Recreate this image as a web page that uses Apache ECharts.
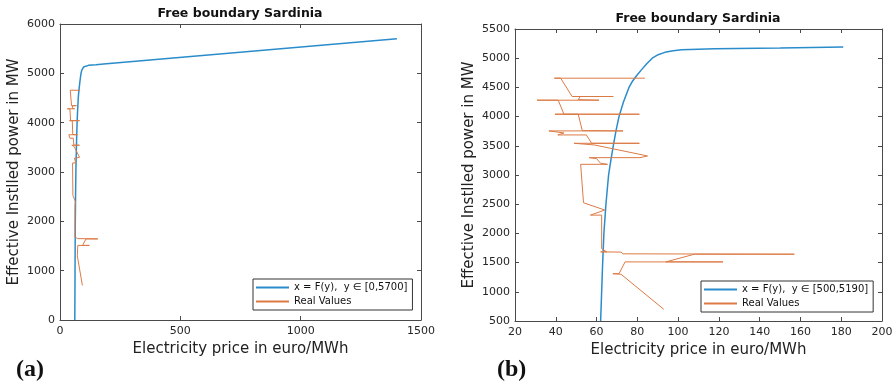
<!DOCTYPE html>
<html>
<head>
<meta charset="utf-8">
<script src="https://cdn.jsdelivr.net/npm/echarts@6/dist/echarts.min.js"></script>
<style>
  html, body { margin: 0; padding: 0; background: #fff; }
  #chart { width: 896px; height: 385px; }
</style>
</head>
<body>
<div id="chart"></div>
<script>
// fitted boundary x = F(y): power (MW) and price (euro/MWh)
var curvePower = [0, 500, 1000, 1500, 2000, 2500, 3000, 3250, 3500, 3750, 4000, 4250, 4500, 4600, 4700, 4800, 4900, 5000, 5060, 5100, 5127, 5145, 5162, 5173, 5190, 5700];
var curvePrice = [61.5, 62, 62.5, 63, 63.6, 64.6, 65.9, 67, 68.2, 69.5, 71, 73.2, 75.9, 77.5, 79.6, 82, 84.5, 87.3, 90.2, 93.5, 97.6, 101.7, 118, 150, 181, 1400];

// real values, in plotting order
var realPrice = [93, 72, 68, 71, 74, 122, 94, 108, 157, 73, 72, 62, 65, 62.5, 62.5, 57, 64, 53.6, 52.2, 65.4, 62, 60, 56.4, 81.3, 85, 59, 49, 81, 57.6, 55, 41, 44, 36.6, 73, 53, 51, 39.6, 81, 44, 41.2, 30.8, 61.2, 51, 52, 68.2, 48, 42.4, 39.3, 83.7];
var realPower = [700, 1300, 1310, 1310, 1512, 1512, 1512, 1644, 1644, 1650, 1680, 1684, 1684, 1740, 2313, 2313, 2400, 2525, 3183, 3183, 3200, 3280, 3297, 3297, 3326, 3514, 3543, 3543, 3543, 3686, 3686, 3720, 3755, 3755, 3760, 4041, 4041, 4041, 4041, 4281, 4281, 4281, 4290, 4344, 4344, 4344, 4658, 4658, 4658];

// axis ticks
var xTicksA = [0, 500, 1000, 1500];
var yTicksA = [0, 1000, 2000, 3000, 4000, 5000, 6000];
var xTicksB = [20, 40, 60, 80, 100, 120, 140, 160, 180, 200];
var yTicksB = [500, 1000, 1500, 2000, 2500, 3000, 3500, 4000, 4500, 5000, 5500];

var rangeA = [0, 5700];
var rangeB = [500, 5190];

var nameA = 'x = F(y),  y \u2208 [0,5700]';
var nameB = 'x = F(y),  y \u2208 [500,5190]';

function pairs(xs, ys, lo, hi) {
  var out = [];
  for (var i = 0; i < xs.length; i++) {
    if (ys[i] >= lo && ys[i] <= hi) out.push([xs[i], ys[i]]);
  }
  return out;
}

var font = 'DejaVu Sans';
var axisColor = '#4a4a4a';

function axis(kind, grid, ticks, pos, title) {
  var main = pos === 'bottom' || pos === 'left';
  return {
    type: 'value',
    gridIndex: grid,
    position: pos,
    min: ticks[0],
    max: ticks[ticks.length - 1],
    interval: ticks[1] - ticks[0],
    name: main ? title : '',
    nameLocation: 'middle',
    nameGap: kind === 'x' ? 21 : 38,
    nameTextStyle: { fontFamily: font, fontSize: 15, color: '#222' },
    axisLine: { show: true, onZero: false, lineStyle: { color: axisColor, width: 1 } },
    axisTick: { show: true, inside: true, length: 4, lineStyle: { color: axisColor } },
    axisLabel: {
      show: main, fontFamily: font, fontSize: 11, color: '#262626',
      margin: kind === 'x' ? 6 : 5,
      formatter: function (v) { return String(v); }
    },
    splitLine: { show: false }
  };
}

var chart = echarts.init(document.getElementById('chart'));

var legendBase = {
  orient: 'vertical',
  backgroundColor: '#fff',
  borderColor: '#333',
  borderWidth: 1,
  borderRadius: 0,
  padding: [2, 5, 2, 3],
  itemGap: 1,
  itemWidth: 33,
  itemHeight: 2,
  icon: 'rect',
  textStyle: { fontFamily: font, fontSize: 10, color: '#111', lineHeight: 13 }
};

var blue = '#2a8ccb';
var orange = '#dc7a45';
var titleFont = 'bold 12.5px "DejaVu Sans"';

chart.setOption({
  animation: false,
  grid: [
    { left: 60, top: 24, width: 361, height: 296 },
    { left: 515, top: 29, width: 367, height: 292 }
  ],
  xAxis: [
    axis('x', 0, xTicksA, 'bottom', 'Electricity price in euro/MWh'),
    axis('x', 0, xTicksA, 'top'),
    axis('x', 1, xTicksB, 'bottom', 'Electricity price in euro/MWh'),
    axis('x', 1, xTicksB, 'top')
  ],
  yAxis: [
    axis('y', 0, yTicksA, 'left', 'Effective Instlled power in MW'),
    axis('y', 0, yTicksA, 'right'),
    axis('y', 1, yTicksB, 'left', 'Effective Instlled power in MW'),
    axis('y', 1, yTicksB, 'right')
  ],
  legend: [
    Object.assign({}, legendBase, { left: 253, top: 279, data: [nameA, 'Real Values'] }),
    Object.assign({}, legendBase, { left: 701, top: 281, data: [nameB, 'Real Values'] })
  ],
  graphic: [
    { type: 'text', x: 240, y: 7, style: { text: 'Free boundary Sardinia', font: titleFont, fill: '#111', textAlign: 'center' } },
    { type: 'text', x: 698, y: 12, style: { text: 'Free boundary Sardinia', font: titleFont, fill: '#111', textAlign: 'center' } },
    { type: 'text', x: 16, y: 358, style: { text: '(a)', font: 'bold 24px "Liberation Serif"', fill: '#111' } },
    { type: 'text', x: 497, y: 358, style: { text: '(b)', font: 'bold 24px "Liberation Serif"', fill: '#111' } }
  ],
  series: [
    {
      name: nameA, type: 'line', xAxisIndex: 0, yAxisIndex: 0, symbol: 'none',
      lineStyle: { color: blue, width: 1.5 }, itemStyle: { color: blue },
      data: pairs(curvePrice, curvePower, rangeA[0], rangeA[1])
    },
    {
      name: 'Real Values', type: 'line', xAxisIndex: 0, yAxisIndex: 0, symbol: 'none',
      lineStyle: { color: orange, width: 1 }, itemStyle: { color: orange },
      data: pairs(realPrice, realPower, -Infinity, Infinity)
    },
    {
      name: nameB, type: 'line', xAxisIndex: 2, yAxisIndex: 2, symbol: 'none',
      lineStyle: { color: blue, width: 1.5 }, itemStyle: { color: blue },
      data: pairs(curvePrice, curvePower, rangeB[0], rangeB[1])
    },
    {
      name: 'Real Values', type: 'line', xAxisIndex: 2, yAxisIndex: 2, symbol: 'none',
      lineStyle: { color: orange, width: 1 }, itemStyle: { color: orange },
      data: pairs(realPrice, realPower, -Infinity, Infinity)
    }
  ]
});
</script>
</body>
</html>
